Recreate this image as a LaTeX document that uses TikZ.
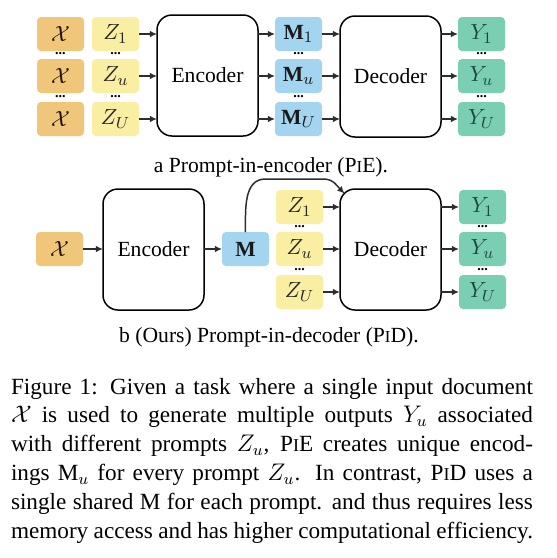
\documentclass[tikz,border=0pt]{standalone}
\usepackage{amsmath}
\usepackage{amssymb}
\usepackage{fontspec}
\setmainfont{Liberation Serif}
\usetikzlibrary{arrows.meta}
\definecolor{xorange}{RGB}{240,198,122}
\definecolor{zyellow}{RGB}{249,238,162}
\definecolor{mblue}{RGB}{163,212,240}
\definecolor{ygreen}{RGB}{122,207,178}
\definecolor{ytext}{RGB}{28,72,66}
\definecolor{arrgray}{RGB}{45,45,45}
\newcommand{\smI}{\scalebox{0.78}{I}}

\begin{document}
\begin{tikzpicture}[x=0.5pt, y=-0.5pt, outer sep=0pt, font=\fontsize{10.8}{13}\selectfont]

\tikzstyle{cell}=[rounded corners=2pt, minimum width=23.5pt, minimum height=17pt, inner sep=0pt, anchor=north west]
\tikzstyle{xbox}=[cell, fill=xorange, text=black!85!brown]
\tikzstyle{zbox}=[cell, fill=zyellow, text=black!85]
\tikzstyle{mbox}=[cell, fill=mblue, text=black!90]
\tikzstyle{ybox}=[cell, fill=ygreen, text=ytext]
\tikzstyle{block}=[draw, line width=0.75pt, rounded corners=7.5pt, minimum width=50.5pt, minimum height=60.5pt, inner sep=0pt, anchor=north west]
\tikzstyle{arr}=[-{Latex[length=3.6pt,width=3.4pt]}, line width=0.75pt, draw=arrgray]
\tikzstyle{dots}=[font=\fontsize{7}{7}\selectfont\bfseries, inner sep=0pt, yshift=0.6pt]

\useasboundingbox (0,0) rectangle (557,558);

\node[xbox] (x1) at (37,17) {$\mathcal{X}$}; \node[xbox] (x2) at (37,59) {$\mathcal{X}$}; \node[xbox] (x3) at (37,102) {$\mathcal{X}$};
\node[zbox] (z1) at (92,17) {$Z_1$}; \node[zbox] (z2) at (92,59) {$Z_u$}; \node[zbox] (z3) at (92,102) {$Z_U$};
\node[block] (enc) at (157,15) {Encoder};
\node[mbox] (m1) at (275,17) {$\mathbf{M}_1$}; \node[mbox] (m2) at (275,59) {$\mathbf{M}_u$}; \node[mbox] (m3) at (275,102) {$\mathbf{M}_U$};
\node[block] (dec) at (340,16) {Decoder};
\node[ybox] (y1) at (458,17) {$Y_1$}; \node[ybox] (y2) at (458,59) {$Y_u$}; \node[ybox] (y3) at (458,102) {$Y_U$};

\foreach \c in {x,z,m,y} {
  \path (\c1.south) -- (\c2.north) node[dots, midway] (\c d1) {...};
  \path (\c2.south) -- (\c3.north) node[dots, midway] (\c d2) {...};
}
\foreach \r in {1,2,3} {
  \draw[arr] (z\r) -- (z\r -| enc.west);
  \draw[arr] (enc.east |- m\r) -- (m\r);
  \draw[arr] (m\r) -- (m\r -| dec.west);
  \draw[arr] (dec.east |- y\r) -- (y\r);
}

\node[anchor=base] (capa) at (271,172) {a Prompt-in-encoder (P\smI E).};

\node[xbox] (bx) at (36,232) {$\mathcal{X}$};
\node[block] (benc) at (103,189) {Encoder};
\node[mbox] (bm) at (222,232) {$\mathbf{M}$};
\node[zbox] (bz1) at (276,190) {$Z_1$}; \node[zbox] (bz2) at (276,232) {$Z_u$}; \node[zbox] (bz3) at (276,275) {$Z_U$};
\node[block] (bdec) at (340,189) {Decoder};
\node[ybox] (by1) at (459,190) {$Y_1$}; \node[ybox] (by2) at (459,232) {$Y_u$}; \node[ybox] (by3) at (459,275) {$Y_U$};

\foreach \c in {bz,by} {
  \path (\c1.south) -- (\c2.north) node[dots, midway] (\c d1) {...};
  \path (\c2.south) -- (\c3.north) node[dots, midway] (\c d2) {...};
}
\draw[arr] (bx) -- (bx -| benc.west);
\draw[arr] (benc.east |- bm) -- (bm);
\foreach \r in {1,2,3} {
  \draw[arr] (bz\r) -- (bz\r -| bdec.west);
  \draw[arr] (bdec.east |- by\r) -- (by\r);
}
\coordinate (decin) at ([shift={(4.5,4.5)}]bdec.north west);
\draw[arr] (bm.north) to[out=90, in=180] ++(20,-53) -- ++(58,0) to[out=0, in=135] (decin);

\node[anchor=base] (capb) at (269,342) {b (Ours) Prompt-in-decoder (P\smI D).};

\node[anchor=north west, text width=261pt, align=justify, inner sep=0pt, font=\fontsize{11.6}{14.4}\selectfont] (cap) at (11,378)
{Figure 1: Given a task where a single input document\linebreak
$\mathcal{X}$ is used to generate multiple outputs $Y_u$ associated\linebreak
with different prompts $Z_u$, P\smI E creates unique encod-\linebreak
ings $\mathrm{M}_u$ for every prompt $Z_u$. In contrast, P\smI D uses a\linebreak
single shared $\mathrm{M}$ for each prompt. and thus requires less\linebreak
memory access and has higher computational efficiency.};
\end{tikzpicture}
\end{document}
